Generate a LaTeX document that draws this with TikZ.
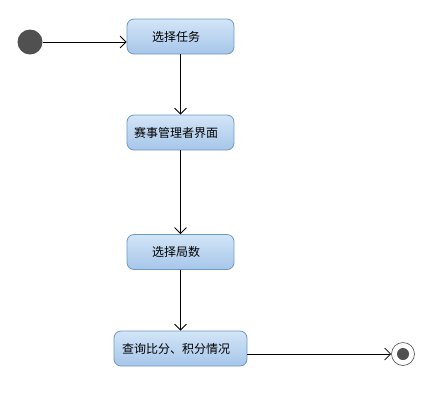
\documentclass[tikz,border=0pt]{standalone}
\usepackage{fontspec}
\newfontfamily\cjk{Noto Sans CJK SC}
\usetikzlibrary{arrows.meta}
\definecolor{boxtop}{HTML}{D3E5F7}
\definecolor{boxbot}{HTML}{A6C6EA}
\definecolor{boxline}{HTML}{6E98C4}
\definecolor{dot}{HTML}{505050}
\newcommand{\lft}[1]{#1\hspace*{9pt}}
\begin{document}
\begin{tikzpicture}[x=1pt,y=-1pt,
  act/.style={draw=boxline, line width=0.8pt, rounded corners=7pt, top color=boxtop, bottom color=boxbot,
    minimum height=35pt, inner sep=0pt, font=\cjk\fontsize{12}{14}\selectfont},
  flow/.style={draw=black, line width=0.8pt, -{Straight Barb[length=6pt,width=12pt]}}]
\useasboundingbox (0,0) rectangle (446,410);
\node[circle, fill=dot, minimum size=25pt, inner sep=0pt] (start) at (30,42) {};
\node[act, minimum width=107pt] (a1) at (180.5,36.5) {\lft{选择任务}};
\node[act, minimum width=107pt] (a2) at (180.5,132.5) {\lft{赛事管理者界面}};
\node[act, minimum width=107pt] (a3) at (180.5,252) {\lft{选择局数}};
\node[act, minimum width=133pt] (a4) at (180.5,348.5) {\lft{查询比分、积分情况}};
\node[circle, draw=black!70, fill=white, line width=0.6pt, minimum size=23pt, inner sep=0pt] (end) at (403,354) {};
\node[circle, fill=dot, minimum size=12pt, inner sep=0pt] (endin) at (end) {};
\draw[flow] (start.east) -- (start.east -| a1.west);
\draw[flow] (a1) -- (a2);
\draw[flow] (a2) -- (a3);
\draw[flow] (a3) -- (a4);
\draw[flow] (a4.east |- end) -- (end.west);
\end{tikzpicture}
\end{document}
